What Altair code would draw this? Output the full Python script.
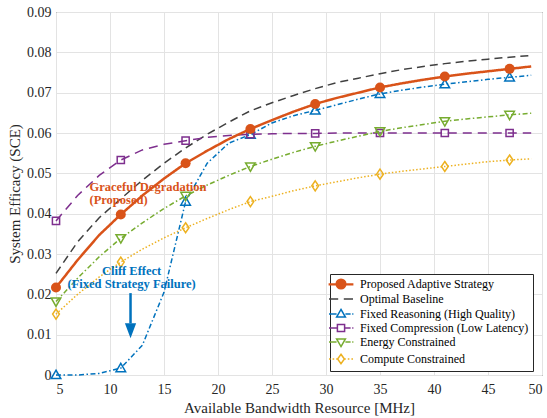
import altair as alt
import pandas as pd

# ---------------- data ----------------
bandwidth = list(range(5, 50, 2))  # 5, 7, ..., 49 MHz

proposed = [0.0217, 0.0285, 0.0347, 0.0398, 0.0445, 0.0487, 0.0525, 0.0556, 0.0585, 0.0610,
            0.0632, 0.0653, 0.0672, 0.0687, 0.0700, 0.0713, 0.0723, 0.0732, 0.0740, 0.0747,
            0.0753, 0.0759, 0.0765]
optimal = [0.0252, 0.0330, 0.0390, 0.0437, 0.0483, 0.0525, 0.0563, 0.0597, 0.0627, 0.0655,
           0.0675, 0.0693, 0.0710, 0.0725, 0.0736, 0.0747, 0.0757, 0.0765, 0.0772, 0.0778,
           0.0783, 0.0788, 0.0792]
fixed_reasoning = [0.0000, 0.0000, 0.0004, 0.0017, 0.0074, 0.0205, 0.0430, 0.0525, 0.0575, 0.0596,
                   0.0625, 0.0643, 0.0656, 0.0670, 0.0684, 0.0697, 0.0706, 0.0714, 0.0721, 0.0727,
                   0.0733, 0.0738, 0.0743]
fixed_compression = [0.0382, 0.0445, 0.0495, 0.0533, 0.0558, 0.0572, 0.0581, 0.0589, 0.0594, 0.0597,
                     0.0598, 0.0599, 0.0599, 0.0600, 0.0600, 0.0600, 0.0600, 0.0600, 0.0600, 0.0600,
                     0.0600, 0.0600, 0.0600]
energy = [0.0182, 0.0240, 0.0293, 0.0339, 0.0377, 0.0413, 0.0444, 0.0471, 0.0495, 0.0517,
          0.0535, 0.0552, 0.0567, 0.0580, 0.0592, 0.0604, 0.0613, 0.0621, 0.0629, 0.0635,
          0.0640, 0.0645, 0.0649]
compute = [0.0151, 0.0200, 0.0243, 0.0280, 0.0312, 0.0340, 0.0365, 0.0388, 0.0410, 0.0430,
           0.0443, 0.0457, 0.0469, 0.0479, 0.0489, 0.0498, 0.0505, 0.0511, 0.0517, 0.0523,
           0.0529, 0.0533, 0.0536]

series_names = ["Proposed Adaptive Strategy", "Optimal Baseline",
                "Fixed Reasoning (High Quality)", "Fixed Compression (Low Latency)",
                "Energy Constrained", "Compute Constrained"]
series_values = [proposed, optimal, fixed_reasoning, fixed_compression, energy, compute]

x_ticks = [5, 10, 15, 20, 25, 30, 35, 40, 45, 50]
y_ticks = [0, 0.01, 0.02, 0.03, 0.04, 0.05, 0.06, 0.07, 0.08, 0.09]

note_text = ["Graceful Degradation", "(Proposed)", "Cliff Effect", "(Fixed Strategy Failure)"]
note_x = [8.1, 8.1, 12.0, 12.0]
note_y = [0.0467, 0.0434, 0.0259, 0.0226]
note_group = ["g", "g", "c", "c"]

arrow_x = [11.9]
arrow_y_top = [0.0203]
arrow_y_head = [0.0128]
arrow_tip_center = [0.0110]

# ---------------- styles ----------------
FONT = "Liberation Serif"
colors = ["#D95319", "#404040", "#0072BD", "#7E2F8E", "#77AC30", "#EDB120"]
dashes = [[1, 0], [8, 5], [5, 2.5, 1.5, 2.5], [9, 6], [5, 2.5, 1.5, 2.5], [1.5, 2]]
widths = [2.5, 1.5, 1.5, 1.5, 1.5, 1.5]
TRI_UP = "M0,-1.2L1.2,0.9L-1.2,0.9Z"
SQUARE = "M-0.9,-0.9L0.9,-0.9L0.9,0.9L-0.9,0.9Z"
TRI_DN = "M0,1.2L1.2,-0.9L-1.2,-0.9Z"
DIAMOND = "M0,-1.25L0.85,0L0,1.25L-0.85,0Z"
marker_shapes = ["circle", None, TRI_UP, SQUARE, TRI_DN, DIAMOND]
marker_sizes = [100, 0, 64, 64, 64, 64]

legend_paths = [
    "M-3.1,0L-1.2,0M1.2,0L3.1,0M-3.1,0.2L-1.2,0.2M1.2,0.2L3.1,0.2M-1.2,0A1.2,1.2,0,1,0,1.2,0A1.2,1.2,0,1,0,-1.2,0Z",
    "M-3,0L-0.7,0M0.7,0L3,0",
    "M-3,0L-1.1,0M1.1,0L2.4,0M2.8,0L3.1,0M0,-1.15L1.1,0.75L-1.1,0.75Z",
    "M-3,0L-0.9,0M0.9,0L2.4,0M2.8,0L3.1,0M-0.9,-0.9L0.9,-0.9L0.9,0.9L-0.9,0.9Z",
    "M-3,0L-1.1,0M1.1,0L2.4,0M2.8,0L3.1,0M0,1.15L1.1,-0.75L-1.1,-0.75Z",
    "M-3,0L-2.6,0M-2.1,0L-1.7,0M-1.2,0L-0.9,0M0.9,0L1.2,0M1.7,0L2.1,0M2.6,0L3,0M0,-1.2L0.85,0L0,1.2L-0.85,0Z",
]
legend_fills = ["#D95319", "transparent", "transparent", "transparent", "transparent", "transparent"]

# ---------------- table ----------------
rows = []
for name, vals in zip(series_names, series_values):
    for i, (b, v) in enumerate(zip(bandwidth, vals)):
        rows.append({"series": name, "bw": b, "sce": v, "marker": (i % 3 == 0 and b <= 47)})
df = pd.DataFrame(rows)

x_enc = alt.X("bw:Q", scale=alt.Scale(domain=[5, 50], nice=False, zero=False),
              axis=alt.Axis(values=x_ticks, title="Available Bandwidth Resource [MHz]",
                            ticks=True, tickSize=7, tickOpacity=0, domain=False, grid=True,
                            labelPadding=0, titlePadding=4))
y_enc = alt.Y("sce:Q", scale=alt.Scale(domain=[0, 0.09], nice=False, zero=False),
              axis=alt.Axis(values=y_ticks, title="System Efficacy (SCE)",
                            labelExpr="datum.value == 0 ? '0' : format(datum.value, '.2f')",
                            ticks=False, domain=False, grid=True, labelPadding=5,
                            titlePadding=4))

layers = []
order = [1, 2, 3, 4, 5, 0]
for k in order:
    name = series_names[k]
    base = alt.Chart(df).transform_filter(alt.datum.series == name)
    layers.append(base.mark_line(color=colors[k], strokeDash=dashes[k], strokeWidth=widths[k])
                  .encode(x=x_enc, y=y_enc))
    if marker_shapes[k] is not None:
        filled = (k == 0)
        layers.append(base.transform_filter(alt.datum.marker == True)
                      .mark_point(shape=marker_shapes[k], size=marker_sizes[k], filled=filled,
                                  color=colors[k], strokeWidth=1.5, opacity=1)
                      .encode(x=x_enc, y=y_enc))

notes = pd.DataFrame({"text": note_text, "bw": note_x, "sce": note_y, "g": note_group})
layers.append(alt.Chart(notes).transform_filter(alt.datum.g == "g")
              .mark_text(align="left", baseline="middle", font=FONT, fontSize=12.5,
                         fontWeight="bold", color="#D95319")
              .encode(x="bw:Q", y="sce:Q", text="text:N"))
layers.append(alt.Chart(notes).transform_filter(alt.datum.g == "c")
              .mark_text(align="center", baseline="middle", font=FONT, fontSize=12.5,
                         fontWeight="bold", color="#0072BD")
              .encode(x="bw:Q", y="sce:Q", text="text:N"))

arrow = pd.DataFrame({"bw": arrow_x, "top": arrow_y_top, "head": arrow_y_head,
                      "tip": arrow_tip_center})
layers.append(alt.Chart(arrow).mark_rule(color="#0072BD", strokeWidth=2.5)
              .encode(x="bw:Q", y="top:Q", y2="head:Q"))
layers.append(alt.Chart(arrow).mark_point(shape="M-0.75,-1L0.75,-1L0,1Z", size=225, filled=True,
                                          color="#0072BD", opacity=1)
              .encode(x="bw:Q", y="tip:Q"))

leg = alt.Legend(title=None, orient="none", legendX=274, legendY=262, fillColor="white",
                 strokeColor="#262626", padding=4, labelFont=FONT, labelFontSize=12,
                 labelColor="#000000", rowPadding=1, symbolSize=64, symbolStrokeWidth=1.5,
                 symbolOffset=1, labelOffset=13, labelLimit=300)
legend_layer = (alt.Chart(alt.Data(values=[]))
                .mark_point(filled=False, size=64, strokeWidth=1.5, opacity=1)
                .encode(color=alt.Color("series:N", scale=alt.Scale(domain=series_names, range=colors), legend=leg),
                        shape=alt.Shape("series:N", scale=alt.Scale(domain=series_names, range=legend_paths), legend=leg),
                        fill=alt.Fill("series:N", scale=alt.Scale(domain=series_names, range=legend_fills), legend=leg)))
layers.append(legend_layer)

chart = (alt.layer(*layers)
         .properties(width=486, height=363,
                     padding={"left": 56, "top": 12, "right": 5, "bottom": 43},
                     autosize=alt.AutoSizeParams(type="none"),
                     background="white")
         .configure_view(stroke="#262626", strokeWidth=1)
         .configure_axis(labelFont=FONT, labelFontSize=14, labelColor="#262626",
                         titleFont=FONT, titleFontSize=15, titleFontWeight="normal",
                         titleColor="#262626", gridColor="#e3e3e3", gridWidth=1))

chart.save("out.html", embed_options={"renderer": "svg", "actions": False})
